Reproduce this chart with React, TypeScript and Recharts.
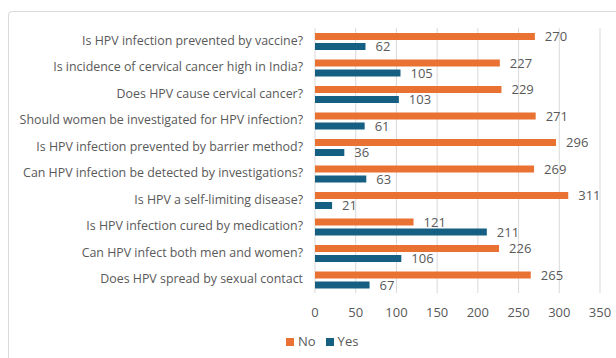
import { Bar, BarChart, CartesianGrid, LabelList, Legend, XAxis, YAxis } from "recharts";

const QUESTIONS = [
  "Is HPV infection prevented by vaccine?",
  "Is incidence of cervical cancer high in India?",
  "Does HPV cause cervical cancer?",
  "Should women be investigated for HPV infection?",
  "Is HPV infection prevented by barrier method?",
  "Can HPV infection be detected by investigations?",
  "Is HPV a self-limiting disease?",
  "Is HPV infection cured by medication?",
  "Can HPV infect both men and women?",
  "Does HPV spread by sexual contact",
];
const NO_VALUES = [270, 227, 229, 271, 296, 269, 311, 121, 226, 265];
const YES_VALUES = [62, 105, 103, 61, 36, 63, 21, 211, 106, 67];
const X_TICKS = [0, 50, 100, 150, 200, 250, 300, 350];

const ORANGE = "#E97132";
const BLUE = "#156082";
const TEXT = "#595959";
const GRID = "#d9d9d9";
const FONT = "'Open Sans', sans-serif";

const data = QUESTIONS.map((q, i) => ({ q, no: NO_VALUES[i], yes: YES_VALUES[i] }));

// keeps each question on one line (default tick wraps long text)
function QuestionTick(props: any) {
  const { x, y, payload } = props;
  return (
    <text
      x={x - 4}
      y={y - 1}
      textAnchor="end"
      dominantBaseline="central"
      fontSize={12.4}
      fontFamily={FONT}
      fill={TEXT}
    >
      {payload.value}
    </text>
  );
}

export default function App() {
  return (
    <div
      style={{
        position: "fixed",
        left: 0,
        top: 0,
        width: 616,
        height: 358,
        overflow: "hidden",
        background: "#fff",
        fontFamily: FONT,
      }}
    >
      <div
        style={{
          position: "absolute",
          left: 8,
          top: 11,
          width: 640,
          height: 380,
          border: "1px solid #d9d9d9",
          borderRadius: 4,
        }}
      />
      <div style={{ position: "absolute", left: 0, top: 0 }}>
        <BarChart
          width={616}
          height={358}
          data={data}
          layout="vertical"
          margin={{ top: 28, right: 16, left: 0, bottom: 7 }}
          barSize={7}
          barGap={3}
        >
          <CartesianGrid horizontal={false} stroke={GRID} />
          <XAxis
            type="number"
            domain={[0, 350]}
            ticks={X_TICKS}
            axisLine={false}
            tickLine={false}
            tickMargin={9}
            height={36}
            tick={{ fontSize: 13, fill: TEXT, fontFamily: FONT }}
          />
          <YAxis
            type="category"
            dataKey="q"
            width={315}
            axisLine={false}
            tickLine={false}
            interval={0}
            tick={<QuestionTick />}
          />
          <Legend
            verticalAlign="bottom"
            iconType="square"
            iconSize={8}
            wrapperStyle={{ left: 286, width: "auto" }}
            formatter={(v) => (
              <span style={{ color: TEXT, fontSize: 13, fontFamily: FONT }}>{v}</span>
            )}
          />
          <Bar dataKey="no" name="No" fill={ORANGE} isAnimationActive={false}>
            <LabelList
              dataKey="no"
              position="right"
              offset={10}
              fill={TEXT}
              fontSize={13}
              fontFamily={FONT}
            />
          </Bar>
          <Bar dataKey="yes" name="Yes" fill={BLUE} isAnimationActive={false}>
            <LabelList
              dataKey="yes"
              position="right"
              offset={10}
              fill={TEXT}
              fontSize={13}
              fontFamily={FONT}
            />
          </Bar>
        </BarChart>
      </div>
    </div>
  );
}
